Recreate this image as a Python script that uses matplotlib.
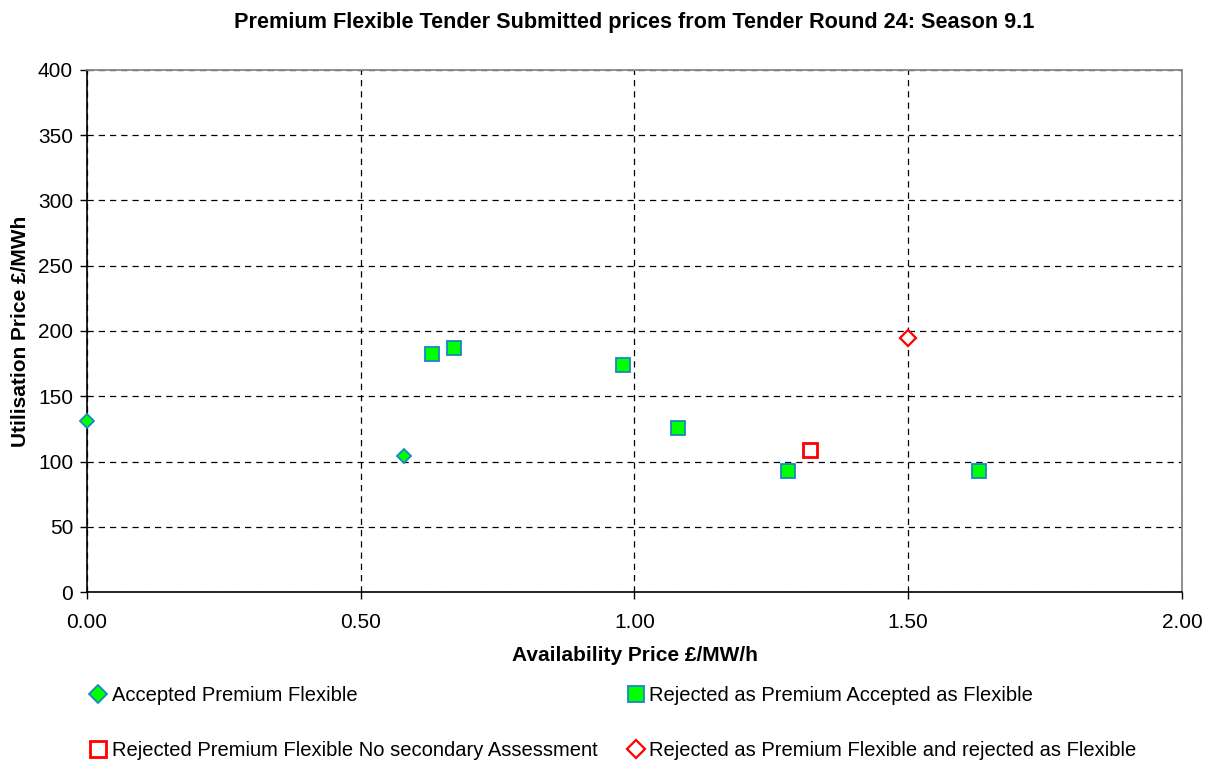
import matplotlib.pyplot as plt

plt.rcParams['font.family'] = ['Liberation Sans', 'DejaVu Sans']

# Accepted Premium Flexible
acc_x = [0.00, 0.58]
acc_y = [131, 104]
# Rejected as Premium Accepted as Flexible
rpaf_x = [0.63, 0.67, 0.98, 1.08, 1.28, 1.63]
rpaf_y = [182, 187, 174, 126, 93, 93]
# Rejected Premium Flexible No secondary Assessment
nosec_x = [1.32]
nosec_y = [109]
# Rejected as Premium Flexible and rejected as Flexible
rej_x = [1.50]
rej_y = [195]

fig = plt.figure(figsize=(12.11, 7.6), dpi=100)
ax = fig.add_axes([0.0718, 0.221, 0.9042, 0.687])

green = '#00FF00'
edge = '#1a86c8'
red = '#FF0000'

h1, = ax.plot(acc_x, acc_y, linestyle='none', marker='D', markersize=7.5,
              markerfacecolor=green, markeredgecolor=edge, markeredgewidth=1.3,
              label='Accepted Premium Flexible', clip_on=False, zorder=5)
h2, = ax.plot(rpaf_x, rpaf_y, linestyle='none', marker='s', markersize=9.5,
              markerfacecolor=green, markeredgecolor=edge, markeredgewidth=1.3,
              label='Rejected as Premium Accepted as Flexible', zorder=5)
h3, = ax.plot(nosec_x, nosec_y, linestyle='none', marker='s', markersize=9.5,
              markerfacecolor='white', markeredgecolor=red, markeredgewidth=2,
              label='Rejected Premium Flexible No secondary Assessment', zorder=5)
h4, = ax.plot(rej_x, rej_y, linestyle='none', marker='D', markersize=8,
              markerfacecolor='white', markeredgecolor=red, markeredgewidth=1.6,
              label='Rejected as Premium Flexible and rejected as Flexible', zorder=5)

ax.set_xlim(0, 2.0)
ax.set_ylim(0, 400)
ax.set_xticks([0, 0.5, 1.0, 1.5, 2.0])
ax.set_xticklabels(['0.00', '0.50', '1.00', '1.50', '2.00'])
ax.set_yticks(range(0, 401, 50))
ax.tick_params(direction='out', length=5, labelsize=15, width=1)
ax.tick_params(axis='x', pad=10)
ax.tick_params(axis='y', pad=5)
ax.grid(True, color='black', linestyle=(0, (5, 4)), linewidth=0.9)
ax.set_axisbelow(True)

for s in ['top', 'right']:
    ax.spines[s].set_color('#888888')
    ax.spines[s].set_linewidth(1.3)
for s in ['left', 'bottom']:
    ax.spines[s].set_color('black')
    ax.spines[s].set_linewidth(1.2)

ax.set_title('Premium Flexible Tender Submitted prices from Tender Round 24: Season 9.1',
             fontsize=15.6, fontweight='bold', pad=30)
ax.set_xlabel('Availability Price £/MW/h', fontsize=15, fontweight='bold', labelpad=10)
ax.set_ylabel('Utilisation Price £/MWh', fontsize=15, fontweight='bold', labelpad=6)

fig.legend(handles=[h1, h3, h2, h4], loc='upper left', bbox_to_anchor=(0.068, 0.108),
           ncol=2, frameon=False, fontsize=14.5, handlelength=0.8, handletextpad=0.25,
           columnspacing=1.5, labelspacing=1.8, borderaxespad=0, markerscale=1.2)

fig.savefig('out.png', dpi=100)
